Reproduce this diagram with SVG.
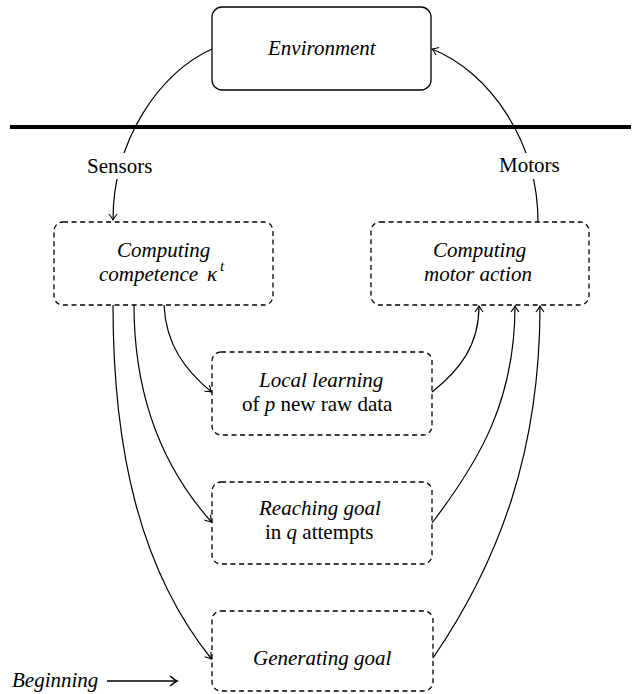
<svg xmlns="http://www.w3.org/2000/svg" width="641" height="694" viewBox="0 0 641 694">
<defs>
<marker id="arr" markerUnits="userSpaceOnUse" markerWidth="12" markerHeight="12" refX="0" refY="0" viewBox="-8 -6 10 12" orient="auto" overflow="visible">
<path d="M-6,-4 Q-2,-1 0,0 Q-2,1 -6,4" fill="none" stroke="#000" stroke-width="1.1"/>
</marker>
<marker id="arrB" markerUnits="userSpaceOnUse" markerWidth="14" markerHeight="14" refX="0" refY="0" viewBox="-10 -7 12 14" orient="auto" overflow="visible">
<path d="M-7,-5 Q-2.5,-1.2 0,0 Q-2.5,1.2 -7,5" fill="none" stroke="#000" stroke-width="1.6"/>
</marker>
</defs>
<rect x="0" y="0" width="641" height="694" fill="#fff"/>
<line x1="10" y1="127" x2="631" y2="127" stroke="#000" stroke-width="4"/>
<g id="connectors" fill="none" stroke="#000" stroke-width="1.2">
<path d="M212,49 C160,72 113,140 113,220" marker-end="url(#arr)"/>
<path d="M538,222 C538,142 490,72 432,49" marker-end="url(#arr)"/>
<path d="M164,305 C166,345 185,370 211.5,392" marker-end="url(#arr)"/>
<path d="M134,305 C134,400 165,470 211.5,522" marker-end="url(#arr)"/>
<path d="M113,305 C113,450 140,570 211.5,659" marker-end="url(#arr)"/>
<path d="M432,392 C460,370 479,345 479,306" marker-end="url(#arr)"/>
<path d="M432,523 C480,460 515,400 515,306" marker-end="url(#arr)"/>
<path d="M433,658 C500,560 540,450 540,306" marker-end="url(#arr)"/>
<path d="M107,681 L177,681" stroke-width="1.7" marker-end="url(#arrB)"/>
</g>
<rect x="96" y="153" width="46" height="26" fill="#fff"/>
<rect x="496" y="153" width="68" height="26" fill="#fff"/>
<text x="87" y="173" font-family="Liberation Serif" font-size="21">Sensors</text>
<text x="499" y="172" font-family="Liberation Serif" font-size="21">Motors</text>
<text x="12" y="687" font-family="Liberation Serif" font-size="21" font-style="italic">Beginning</text>
<g id="environment">
<rect x="212" y="7" width="219" height="83" rx="10" fill="#fff" stroke="#000" stroke-width="1.3"/>
<text x="268" y="55" font-family="Liberation Serif" font-size="21" font-style="italic">Environment</text>
</g>
<g id="competence">
<rect x="54" y="222" width="219" height="83" rx="9" fill="none" stroke="#000" stroke-width="1.3" stroke-dasharray="5 3.6"/>
<text x="117" y="257" font-family="Liberation Serif" font-size="21" font-style="italic">Computing</text>
<text x="99" y="281" font-family="Liberation Serif" font-size="21" font-style="italic">competence</text>
<text x="207" y="281" font-family="Liberation Serif" font-size="21" font-style="italic">&#954;</text>
<text x="220" y="271" font-family="Liberation Serif" font-size="15" font-style="italic">t</text>
</g>
<g id="motor">
<rect x="371" y="222" width="218" height="83" rx="9" fill="none" stroke="#000" stroke-width="1.3" stroke-dasharray="5 3.6"/>
<text x="433" y="257" font-family="Liberation Serif" font-size="21" font-style="italic">Computing</text>
<text x="424" y="281" font-family="Liberation Serif" font-size="21" font-style="italic">motor action</text>
</g>
<g id="learning">
<rect x="212" y="352" width="220" height="83" rx="9" fill="none" stroke="#000" stroke-width="1.3" stroke-dasharray="5 3.6"/>
<text x="259" y="387" font-family="Liberation Serif" font-size="21" font-style="italic">Local learning</text>
<text x="242" y="411" font-family="Liberation Serif" font-size="21">of <tspan font-style="italic">p</tspan> new raw data</text>
</g>
<g id="reaching">
<rect x="212" y="482" width="220" height="82" rx="9" fill="none" stroke="#000" stroke-width="1.3" stroke-dasharray="5 3.6"/>
<text x="259" y="515" font-family="Liberation Serif" font-size="21" font-style="italic">Reaching goal</text>
<text x="265" y="539" font-family="Liberation Serif" font-size="21">in <tspan font-style="italic">q</tspan> attempts</text>
</g>
<g id="generating">
<rect x="212" y="611" width="221" height="80" rx="9" fill="none" stroke="#000" stroke-width="1.3" stroke-dasharray="5 3.6"/>
<text x="253" y="665" font-family="Liberation Serif" font-size="21" font-style="italic">Generating goal</text>
</g>
</svg>
